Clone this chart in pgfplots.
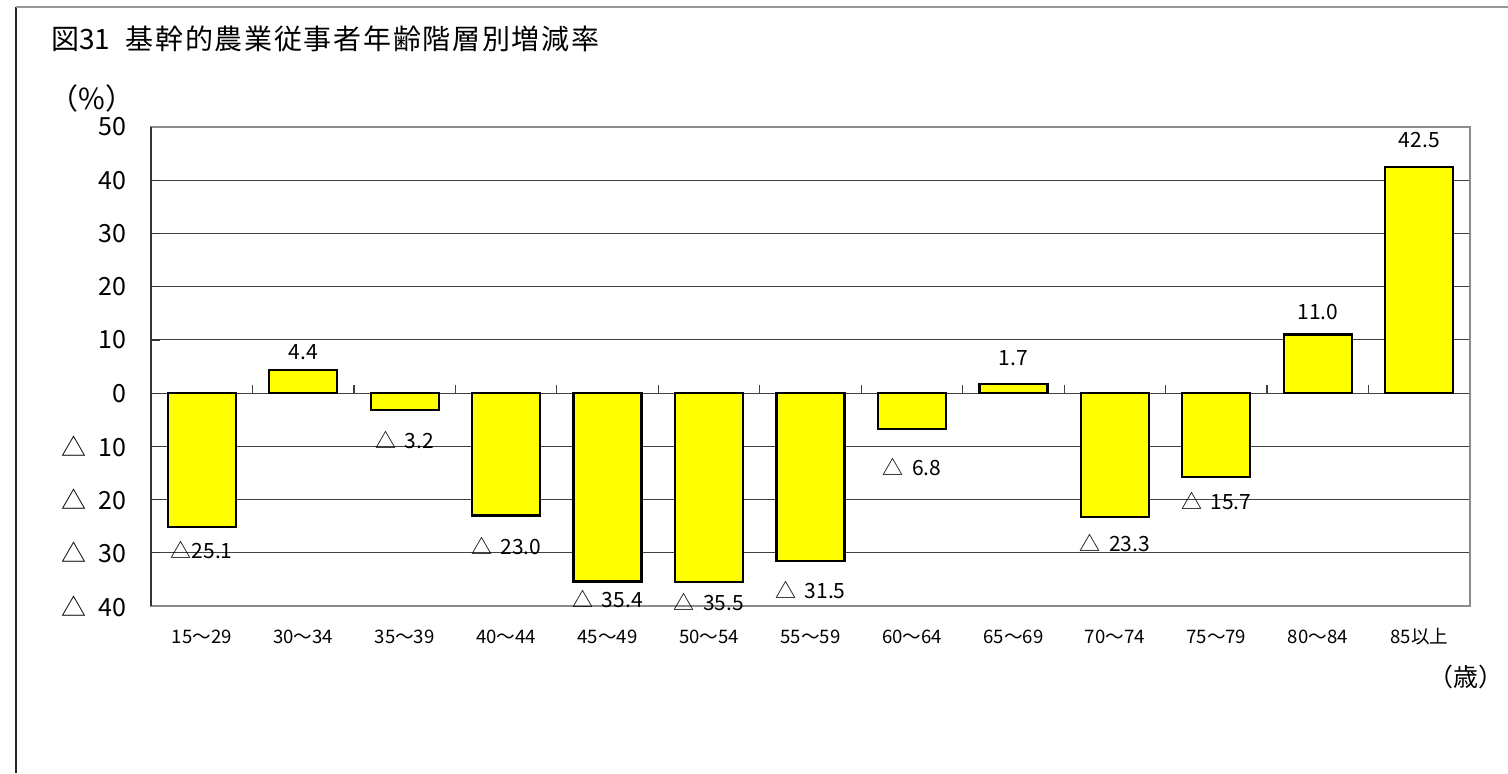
\documentclass[border=0pt]{standalone}
\usepackage{pgfplots}
\pgfplotsset{compat=1.18}
\usepackage{fontspec}
\setmainfont{Noto Sans CJK JP}
\definecolor{baryellow}{RGB}{255,255,0}
\begin{document}
\begin{tikzpicture}
\useasboundingbox (0,0) rectangle (754pt,386.5pt);
\fill[white] (0,0) rectangle (754pt,386.5pt);
\draw[black!85, line width=0.9pt] (7.8pt,0) -- (7.8pt,383pt);
\draw[gray!80, line width=0.8pt] (7.8pt,383pt) -- (754pt,383pt);
\node[anchor=west, font=\fontsize{14}{16}\selectfont, inner sep=0pt] at (25.5pt,367pt) {図31\hspace{0.55em}\addfontfeature{LetterSpace=6}基幹的農業従事者年齢階層別増減率};
\node[anchor=center, font=\fontsize{14.5}{16}\selectfont, inner sep=0pt] at (46pt,337.5pt) {（\%）};
\node[anchor=center, font=\fontsize{12.5}{15}\selectfont, inner sep=0pt] at (733pt,48pt) {（歳）};
\begin{axis}[
  at={(75.5pt,83.5pt)}, anchor=south west,
  scale only axis, width=659.5pt, height=239.5pt,
  xmin=-0.5, xmax=12.5, ymin=-40, ymax=50,
  ytick={-40,-30,-20,-10,0,10,20,30,40,50},
  yticklabels={△\hspace{0.5em}40,△\hspace{0.5em}30,△\hspace{0.5em}20,△\hspace{0.5em}10,0,10,20,30,40,50},
  xtick={0,1,2,3,4,5,6,7,8,9,10,11,12},
  xticklabels={15～29,30～34,35～39,40～44,45～49,50～54,55～59,60～64,65～69,70～74,75～79,80～84,85以上},
  xtick style={draw=none},
  ytick pos=left,
  major tick length=4.5pt,
  ytick style={black!80, line width=0.6pt},
  ymajorgrids,
  major grid style={black!75, line width=0.5pt},
  axis line style={gray!90, line width=0.9pt},
  yticklabel style={anchor=east, inner sep=0pt, xshift=-12pt, font=\fontsize{12.5}{14}\selectfont},
  xticklabel style={anchor=center, inner sep=0pt, yshift=-15.5pt, font=\fontsize{9.3}{11}\selectfont},
  clip=false,
]
\addplot[ybar, bar width=0.67, fill=baryellow, draw=black, line width=1.1pt] coordinates {
  (0,-25.1) (1,4.4) (2,-3.2) (3,-23.0) (4,-35.4) (5,-35.5) (6,-31.5)
  (7,-6.8) (8,1.7) (9,-23.3) (10,-15.7) (11,11.0) (12,42.5)
};
\addplot[black!75, line width=0.6pt] coordinates {(0.5,0) (0.5,1.5)};
\addplot[black!75, line width=0.6pt] coordinates {(1.5,0) (1.5,1.5)};
\addplot[black!75, line width=0.6pt] coordinates {(2.5,0) (2.5,1.5)};
\addplot[black!75, line width=0.6pt] coordinates {(3.5,0) (3.5,1.5)};
\addplot[black!75, line width=0.6pt] coordinates {(4.5,0) (4.5,1.5)};
\addplot[black!75, line width=0.6pt] coordinates {(5.5,0) (5.5,1.5)};
\addplot[black!75, line width=0.6pt] coordinates {(6.5,0) (6.5,1.5)};
\addplot[black!75, line width=0.6pt] coordinates {(7.5,0) (7.5,1.5)};
\addplot[black!75, line width=0.6pt] coordinates {(8.5,0) (8.5,1.5)};
\addplot[black!75, line width=0.6pt] coordinates {(9.5,0) (9.5,1.5)};
\addplot[black!75, line width=0.6pt] coordinates {(10.5,0) (10.5,1.5)};
\addplot[black!75, line width=0.6pt] coordinates {(11.5,0) (11.5,1.5)};
\addplot[draw=none, mark=none, point meta=explicit symbolic,
  nodes near coords,
  every node near coord/.append style={anchor=center, inner sep=0pt, font=\fontsize{10.5}{12}\selectfont, text=black}]
  coordinates {
  (0,-29.5) [△25.1]
  (1,7.7) [4.4]
  (2,-8.8) [△\hspace{0.4em}3.2]
  (3,-28.7) [△\hspace{0.4em}23.0]
  (4,-38.7) [△\hspace{0.4em}35.4]
  (5,-39.3) [△\hspace{0.4em}35.5]
  (6,-37.0) [△\hspace{0.4em}31.5]
  (7,-13.9) [△\hspace{0.4em}6.8]
  (8,6.6) [1.7]
  (9,-28.2) [△\hspace{0.4em}23.3]
  (10,-20.3) [△\hspace{0.4em}15.7]
  (11,15.2) [11.0]
  (12,47.5) [42.5]
};
\draw[black!80, line width=0.9pt] (rel axis cs:0,0) -- (rel axis cs:0,1);
\end{axis}
\end{tikzpicture}
\end{document}
